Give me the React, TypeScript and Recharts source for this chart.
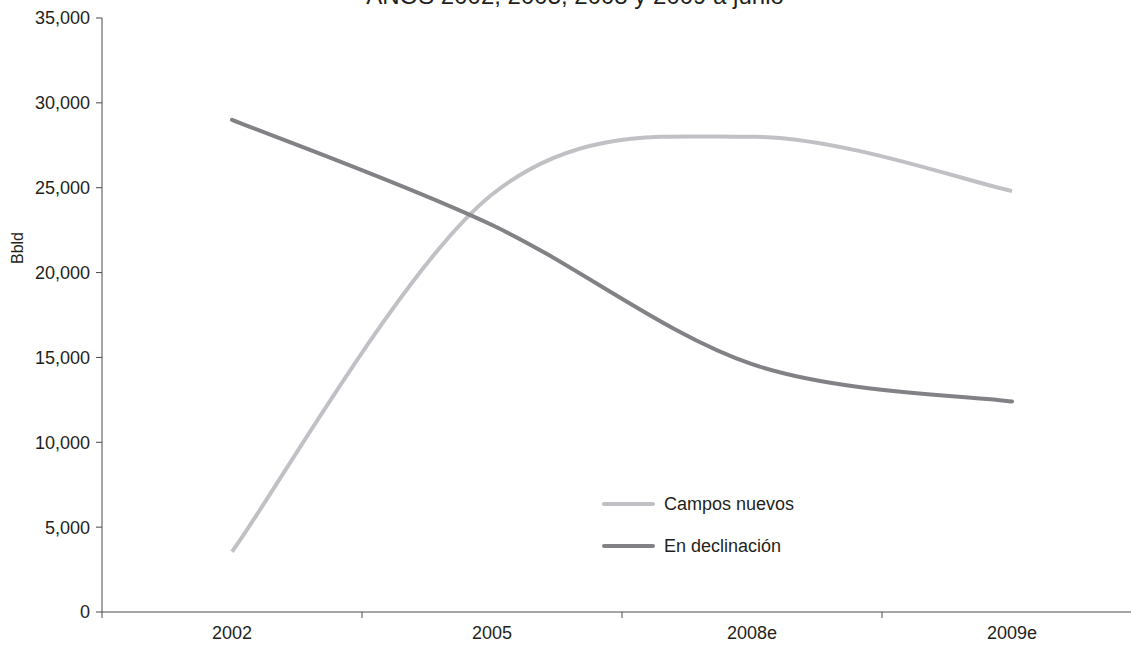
import { LineChart, Line, XAxis, YAxis } from "recharts";

const years = ["2002", "2005", "2008e", "2009e"];
const camposNuevos = [3550, 24600, 28000, 24800];
const enDeclinacion = [29000, 22800, 14600, 12400];
const yTicks = [0, 5000, 10000, 15000, 20000, 25000, 30000, 35000];

const data = years.map((year, i) => ({
  pos: i + 0.5,
  year,
  campos: camposNuevos[i],
  declinacion: enDeclinacion[i],
}));

const CHART_W = 1160;
const CHART_H = 646;
const MARGIN = { top: 18, right: 18, bottom: 0, left: 0 };
const Y_AXIS_W = 102;
const BAND = (CHART_W - MARGIN.left - MARGIN.right - Y_AXIS_W) / years.length;

const LIGHT = "#c1c1c5";
const DARK = "#828286";
const AXIS = "#4a4a4a";
const TEXT = "#231f20";
const FONT = "'Liberation Sans', Arial, sans-serif";

const series = [
  { key: "campos", label: "Campos nuevos", color: LIGHT },
  { key: "declinacion", label: "En declinación", color: DARK },
];

// spreadsheet-style smoothed line (catmull-rom, tension 0)
const smoothCurve = (context: any) => {
  let pts: number[][] = [];
  return {
    areaStart() {},
    areaEnd() {},
    lineStart() {
      pts = [];
    },
    point(x: number, y: number) {
      pts.push([+x, +y]);
    },
    lineEnd() {
      const n = pts.length;
      if (!n) return;
      context.moveTo(pts[0][0], pts[0][1]);
      for (let i = 0; i < n - 1; i++) {
        const p0 = pts[Math.max(i - 1, 0)];
        const p1 = pts[i];
        const p2 = pts[i + 1];
        const p3 = pts[Math.min(i + 2, n - 1)];
        context.bezierCurveTo(
          p1[0] + (p2[0] - p0[0]) / 6,
          p1[1] + (p2[1] - p0[1]) / 6,
          p2[0] - (p3[0] - p1[0]) / 6,
          p2[1] - (p3[1] - p1[1]) / 6,
          p2[0],
          p2[1]
        );
      }
    },
  };
};

const YearTick = (props: any) => {
  const { x, y, index } = props;
  if (index >= years.length) return null;
  return (
    <text x={x + BAND / 2} y={y} dy={19} textAnchor="middle" fill={TEXT} fontSize={18} fontFamily={FONT}>
      {years[index]}
    </text>
  );
};

const LegendBox = () => (
  <div
    style={{
      position: "absolute",
      left: 602,
      top: 483,
      fontFamily: FONT,
      fontSize: 18,
      color: TEXT,
    }}
  >
    {series.map((it) => (
      <div key={it.key} style={{ display: "flex", alignItems: "center", height: 42 }}>
        <div style={{ width: 53, height: 4, background: it.color, borderRadius: 2, marginRight: 9 }} />
        <span>{it.label}</span>
      </div>
    ))}
  </div>
);

export default function App() {
  return (
    <div
      style={{
        position: "absolute",
        left: 0,
        top: 0,
        width: 1131,
        height: 646,
        overflow: "hidden",
        background: "#fff",
        fontFamily: FONT,
      }}
    >
      <div
        style={{
          position: "absolute",
          left: 0,
          width: 1150,
          top: -16,
          lineHeight: "24px",
          fontSize: 24,
          textAlign: "center",
          color: TEXT,
          whiteSpace: "nowrap",
        }}
      >
        AÑOS 2002, 2005, 2008 y 2009 a junio
      </div>
      <div
        style={{
          position: "absolute",
          left: 5,
          top: 248,
          transform: "translate(-50%, -50%) rotate(-90deg)",
          fontSize: 16,
          color: TEXT,
          whiteSpace: "nowrap",
          marginLeft: 13,
        }}
      >
        Bbld
      </div>
      <LineChart width={CHART_W} height={CHART_H} data={data} margin={MARGIN}>
        <XAxis
          dataKey="pos"
          type="number"
          domain={[0, years.length]}
          ticks={[0, 1, 2, 3, 4]}
          interval={0}
          height={34}
          stroke={AXIS}
          tickSize={6}
          tick={<YearTick />}
        />
        <YAxis
          domain={[0, 35000]}
          ticks={yTicks}
          interval={0}
          width={Y_AXIS_W}
          stroke={AXIS}
          tickSize={6}
          tickMargin={6}
          tick={{ fill: TEXT, fontSize: 18, fontFamily: FONT }}
          tickFormatter={(v: number) => v.toLocaleString("en-US")}
        />
        {series.map((s) => (
          <Line
            key={s.key}
            type={smoothCurve as any}
            dataKey={s.key}
            name={s.label}
            stroke={s.color}
            strokeWidth={4}
            strokeLinecap={s.key === "declinacion" ? "round" : "butt"}
            dot={false}
            isAnimationActive={false}
          />
        ))}
      </LineChart>
      <LegendBox />
    </div>
  );
}
